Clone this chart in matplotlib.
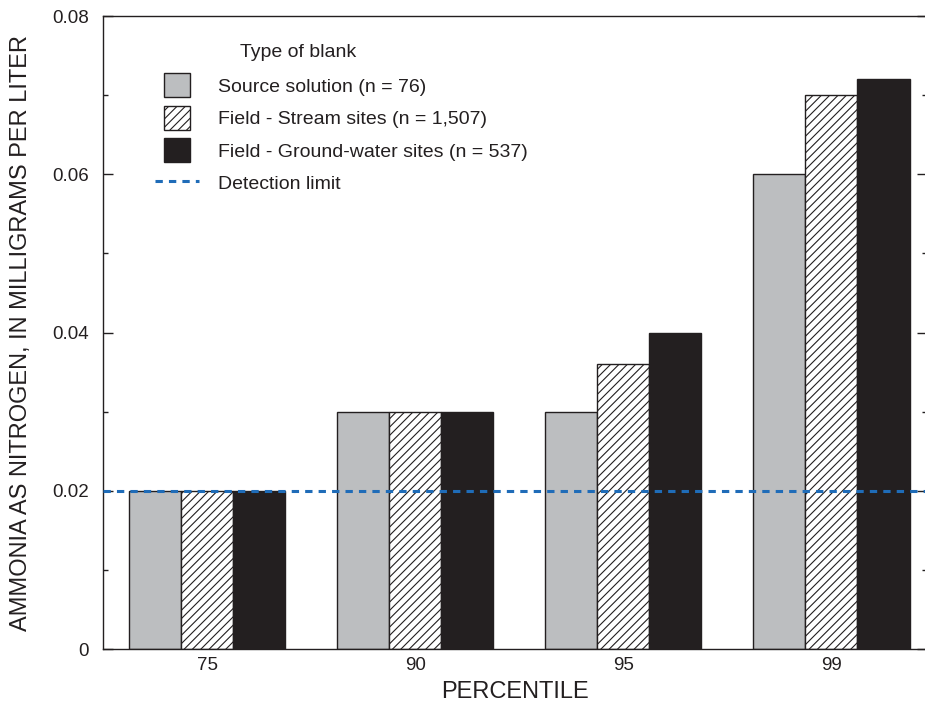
import numpy as np
import matplotlib.pyplot as plt
from matplotlib.patches import Rectangle
from matplotlib.legend_handler import HandlerPatch

plt.rcParams['font.family'] = ['Liberation Sans', 'DejaVu Sans']
plt.rcParams['hatch.linewidth'] = 0.8
plt.rcParams['hatch.color'] = '#231f20'

percentiles = ['75', '90', '95', '99']
source = [0.02, 0.03, 0.03, 0.06]
stream = [0.02, 0.03, 0.036, 0.07]
ground = [0.02, 0.03, 0.04, 0.072]
detection_limit = 0.02

labels = ['Source solution (n = 76)',
          'Field - Stream sites (n = 1,507)',
          'Field - Ground-water sites (n = 537)']

ink = '#231f20'

fig = plt.figure(figsize=(9.25, 7.06), dpi=100)
ax = fig.add_axes([0.1114, 0.0807, 0.891, 0.8966])

x = np.arange(len(percentiles))
w = 0.25
b1 = ax.bar(x - w, source, w, color='#bcbec0', edgecolor=ink, linewidth=1.0)
b2 = ax.bar(x, stream, w, color='white', edgecolor=ink, linewidth=1.0, hatch='////')
b3 = ax.bar(x + w, ground, w, color=ink, edgecolor=ink, linewidth=1.0)
dl = ax.axhline(detection_limit, color='#1f6cb8', lw=2.2, ls=(0, (2.4, 2.0)), zorder=3)

ax.set_xlim(-0.5, 3.46)
ax.set_ylim(0, 0.08)
ax.set_xticks(x)
ax.set_xticklabels(percentiles)
ax.set_yticks([0, 0.02, 0.04, 0.06, 0.08])
ax.set_yticklabels(['0', '0.02', '0.04', '0.06', '0.08'])
ax.set_yticks(np.arange(0, 0.081, 0.01), minor=True)
ax.tick_params(axis='x', length=0, labelsize=13.5, pad=6, labelcolor=ink)
ax.tick_params(axis='y', which='major', direction='in', length=7, width=1,
               labelsize=13.5, right=True, color=ink, pad=10, labelcolor=ink)
ax.tick_params(axis='y', which='minor', direction='in', length=3.5, width=1,
               right=True, color=ink)
for s in ax.spines.values():
    s.set_linewidth(1.0)
    s.set_color(ink)

ax.set_xlabel('PERCENTILE', fontsize=17, labelpad=5, color=ink)
ax.set_ylabel('AMMONIA AS NITROGEN, IN MILLIGRAMS PER LITER', fontsize=17,
              labelpad=15, color=ink)


# smaller square swatches, centred under the dashed legend line
def small_box(legend, orig_handle, xdescent, ydescent, width, height, fontsize):
    bw, bh = 18.7, 17.3
    return Rectangle((-xdescent + (width - bw) / 2, -ydescent + (height - bh) / 2),
                     bw, bh)


ax.text(0.166, 0.943, 'Type of blank', transform=ax.transAxes, fontsize=14,
        color=ink, va='center')
hp = HandlerPatch(patch_func=small_box)
handles = [b1[0], b2[0], b3[0], dl]
ax.legend(handles, labels + ['Detection limit'], frameon=False,
          loc='upper left', bbox_to_anchor=(0.063, 0.907), fontsize=14,
          handlelength=2.27, handleheight=1.24, handletextpad=0.98,
          labelspacing=0.6, borderaxespad=0, borderpad=0, labelcolor=ink,
          handler_map={b1[0]: hp, b2[0]: hp, b3[0]: hp})

fig.savefig('out.png', dpi=100)
